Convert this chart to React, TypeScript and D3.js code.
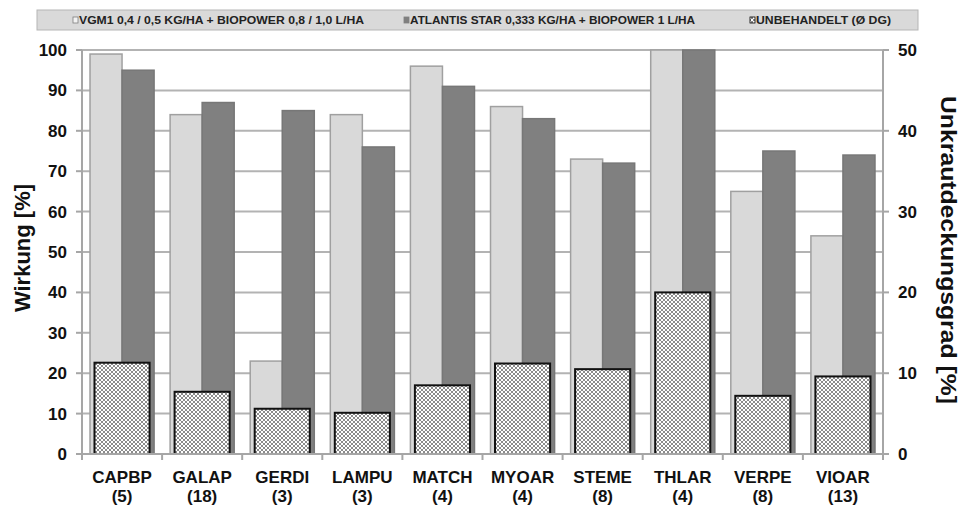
import React from 'react';
import * as d3 from 'd3';

const categories = ['CAPBP', 'GALAP', 'GERDI', 'LAMPU', 'MATCH', 'MYOAR', 'STEME', 'THLAR', 'VERPE', 'VIOAR'];
const counts = ['(5)', '(18)', '(3)', '(3)', '(4)', '(4)', '(8)', '(4)', '(8)', '(13)'];
const vgm1 = [99, 84, 23, 84, 96, 86, 73, 100, 65, 54];
const atlantis = [95, 87, 85, 76, 91, 83, 72, 100, 75, 74];
const untreated = [11.3, 7.7, 5.6, 5.1, 8.5, 11.2, 10.5, 20, 7.2, 9.6];
const leftTicks = [0, 10, 20, 30, 40, 50, 60, 70, 80, 90, 100];
const rightTicks = [0, 10, 20, 30, 40, 50];
const legendLabels = [
  'VGM1 0,4 / 0,5 KG/HA + BIOPOWER 0,8 / 1,0 L/HA',
  'ATLANTIS STAR 0,333 KG/HA + BIOPOWER 1 L/HA',
  'UNBEHANDELT (Ø DG)',
];

const W = 962;
const H = 507;
const left = 82;
const right = 883;
const top = 50;
const bottom = 454;
const font = '"Liberation Sans", Arial, sans-serif';

export default function App() {
  const x = d3.scaleBand<string>().domain(categories).range([left, right]).paddingInner(0.2).paddingOuter(0.1);
  const yL = d3.scaleLinear().domain([0, 100]).range([bottom, top]);
  const yR = d3.scaleLinear().domain([0, 50]).range([bottom, top]);
  const half = x.bandwidth() / 2;
  const hatchW = x.bandwidth() * 0.86;

  return (
    <svg width={W} height={H} style={{ position: 'absolute', left: 0, top: 0 }}>
      <defs>
        <pattern id="hatch" width="4" height="4" patternUnits="userSpaceOnUse">
          <rect width="4" height="4" fill="#ffffff" />
          <path d="M0,0 L4,4 M4,0 L0,4" stroke="#8c8c8c" strokeWidth="1" />
        </pattern>
      </defs>
      <rect width={W} height={H} fill="#fff" />

      {/* legend */}
      <rect x={37} y={10} width={881} height={20} fill="#d9d9d9" stroke="#b5b5b5" strokeWidth={1} />
      {[73, 404, 750].map((lx, i) => (
        <g key={i} transform={`translate(${lx},20)`}>
          <rect x={0} y={-3} width={5} height={6}
            fill={i === 0 ? '#f2f2f2' : i === 1 ? '#7f7f7f' : 'url(#hatch)'}
            stroke={i === 2 ? '#000' : '#7f7f7f'} strokeWidth={0.8} />
          <text x={6} y={4} fontFamily={font} fontSize={10} fontWeight="bold" fill="#222"
            textLength={i === 0 ? 285 : i === 1 ? 285 : 135} lengthAdjust="spacingAndGlyphs">{legendLabels[i]}</text>
        </g>
      ))}

      {/* grid */}
      {leftTicks.map(t => (
        <line key={t} x1={left} x2={right} y1={yL(t)} y2={yL(t)} stroke="#b3b3b3" strokeWidth={2} />
      ))}

      {/* bars */}
      {categories.map((c, i) => {
        const bx = x(c)!;
        return (
          <g key={c}>
            <rect x={bx} y={yL(vgm1[i])} width={half} height={bottom - yL(vgm1[i])} fill="#d9d9d9" stroke="#a0a0a0" strokeWidth={1.5} />
            <rect x={bx + half} y={yL(atlantis[i])} width={half} height={bottom - yL(atlantis[i])} fill="#808080" stroke="#777" strokeWidth={1.5} />
            <rect x={bx + half - hatchW / 2} y={yR(untreated[i])} width={hatchW} height={bottom - yR(untreated[i])} fill="url(#hatch)" stroke="#111" strokeWidth={2} />
          </g>
        );
      })}

      {/* axes */}
      <line x1={left} x2={left} y1={top} y2={bottom} stroke="#a6a6a6" strokeWidth={2} />
      <line x1={right} x2={right} y1={top} y2={bottom} stroke="#a6a6a6" strokeWidth={2} />
      <line x1={left} x2={right} y1={bottom} y2={bottom} stroke="#a6a6a6" strokeWidth={2} />
      {leftTicks.map(t => (
        <g key={t}>
          <line x1={left - 6} x2={left} y1={yL(t)} y2={yL(t)} stroke="#a6a6a6" strokeWidth={2} />
          <text x={67} y={yL(t) + 6} textAnchor="end" fontFamily={font} fontSize={17} fontWeight="bold" fill="#111">{t}</text>
        </g>
      ))}
      {rightTicks.map(t => (
        <g key={t}>
          <line x1={right} x2={right + 6} y1={yR(t)} y2={yR(t)} stroke="#a6a6a6" strokeWidth={2} />
          <text x={898} y={yR(t) + 6} textAnchor="start" fontFamily={font} fontSize={17} fontWeight="bold" fill="#111">{t}</text>
        </g>
      ))}
      {categories.map((c, i) => {
        const cx = x(c)! + half;
        const tx = left + (right - left) / categories.length * (i + 1);
        return (
          <g key={c}>
            <line x1={tx} x2={tx} y1={bottom} y2={bottom + 6} stroke="#a6a6a6" strokeWidth={2} />
            <text x={cx} y={483} textAnchor="middle" fontFamily={font} fontSize={17} fontWeight="bold" fill="#111">{c}</text>
            <text x={cx} y={502} textAnchor="middle" fontFamily={font} fontSize={17} fontWeight="bold" fill="#111">{counts[i]}</text>
          </g>
        );
      })}
      <line x1={left} x2={left} y1={bottom} y2={bottom + 6} stroke="#a6a6a6" strokeWidth={2} />

      <text transform={`translate(30,248) rotate(-90)`} textAnchor="middle" fontFamily={font} fontSize={22} fontWeight="bold" fill="#111">Wirkung [%]</text>
      <text transform={`translate(941,250) rotate(90)`} textAnchor="middle" fontFamily={font} fontSize={22} fontWeight="bold" fill="#111"
        textLength={308} lengthAdjust="spacingAndGlyphs">Unkrautdeckungsgrad [%]</text>
    </svg>
  );
}
